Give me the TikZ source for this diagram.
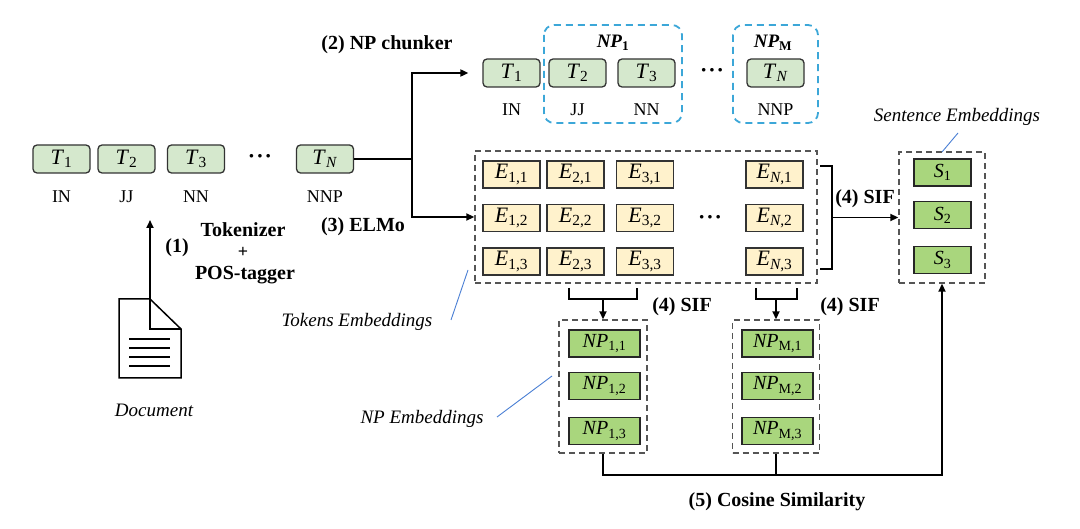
\documentclass[tikz,border=0pt]{standalone}
\usepackage{fontspec}
\setmainfont{Liberation Serif}
\usetikzlibrary{arrows.meta}
\definecolor{tokgreen}{RGB}{213,232,205}
\definecolor{embyellow}{RGB}{255,242,204}
\definecolor{npgreen}{RGB}{169,214,125}
\definecolor{chunkblue}{RGB}{60,167,216}
\definecolor{notegray}{RGB}{85,85,85}
\definecolor{noteblue}{RGB}{74,127,212}
\newcommand{\sub}[2]{\textit{#1}\textsubscript{#2}}
\newcommand{\hdots}{\textbf{\char"00B7\kern1pt\char"00B7\kern1pt\char"00B7}}
\begin{document}
\begin{tikzpicture}[x=1pt, y=-1pt,
    tokbox/.style={draw=black!80, line width=1.3pt, fill=tokgreen, rounded corners=4pt,
        minimum width=57pt, minimum height=28pt, inner sep=0pt, font=\fontsize{22}{24}\selectfont},
    embbox/.style={draw=black!80, line width=1.3pt, fill=embyellow,
        minimum width=57pt, minimum height=27pt, inner sep=0pt, font=\fontsize{22}{24}\selectfont},
    vecbox/.style={draw=black!85, line width=1.3pt, fill=npgreen,
        minimum height=27pt, inner sep=0pt, font=\fontsize{20}{24}\selectfont},
    groupbox/.style={draw=notegray, line width=1.4pt, dash pattern=on 6pt off 4pt, inner sep=0pt},
    chunkbox/.style={draw=chunkblue, line width=1.8pt, dash pattern=on 7pt off 5pt, rounded corners=10pt},
    tag/.style={font=\fontsize{18}{20}\selectfont},
    dotlabel/.style={font=\fontsize{22}{24}\selectfont},
    steplabel/.style={font=\bfseries\fontsize{20}{22}\selectfont},
    notelabel/.style={font=\itshape\fontsize{19}{22}\selectfont},
    noteline/.style={draw=noteblue, line width=0.9pt},
    conn/.style={line width=1.9pt},
    arr/.style={conn, -{Triangle[length=8pt, width=7pt]}}]
    \useasboundingbox (0,0) rectangle (1080,529);

    % tokens of the document
    \node[tokbox] (t1) at (61.5,159) {\sub{T}{1}};
    \node[tokbox] (t2) at (126.5,159) {\sub{T}{2}};
    \node[tokbox] (t3) at (196,159) {\sub{T}{3}};
    \node[dotlabel] (tdots) at (260,159) {\hdots};
    \node[tokbox] (tn) at (325,159) {\sub{T}{\textit{N}}};
    \node[tag] (p1) at (61.5,197) {IN};
    \node[tag] (p2) at (126.5,197) {JJ};
    \node[tag] (p3) at (196,197) {NN};
    \node[tag] (pn) at (325,197) {NNP};

    % document icon
    \draw[line width=1.5pt] (119,299) -- (150,299) -- (181,329) -- (181,378) -- (119,378) -- cycle;
    \draw[line width=1.5pt] (150,299) coordinate (docfold) -- (150,329) -- (181,329);
    \draw[line width=1.5pt] (129,339) -- (170,339) (129,348) -- (170,348) (129,357) -- (170,357) (129,366) -- (170,366);
    \node[notelabel] (doc) at (154,410) {Document};
    \coordinate (tagged) at (150,220);
    \draw[arr] (docfold) -- (tagged);
    \node[steplabel] (s1lab) at (177,248) {(1)};
    \node[steplabel, anchor=base, inner sep=0pt] (toklab) at (243,237) {Tokenizer};
    \node[steplabel, anchor=base, inner sep=0pt, font=\bfseries\fontsize{18}{20}\selectfont] (pluslab) at (243,258) {+};
    \node[steplabel, anchor=base, inner sep=0pt] (poslab) at (245,280) {POS-tagger};

    % chunked tokens
    \node[tokbox] (c1) at (511.5,73) {\sub{T}{1}};
    \node[tokbox] (c2) at (577.5,73) {\sub{T}{2}};
    \node[tokbox] (c3) at (646.5,73) {\sub{T}{3}};
    \node[dotlabel] (cdots) at (712,73) {\hdots};
    \node[tokbox] (cn) at (775.5,73) {\sub{T}{\textit{N}}};
    \node[tag] (q1) at (511.5,110) {IN};
    \node[tag] (q2) at (577.5,110) {JJ};
    \node[tag] (q3) at (646.5,110) {NN};
    \node[tag] (qn) at (775.5,110) {NNP};
    \draw[chunkbox] (544,25) rectangle (682,123);
    \draw[chunkbox] (733,25) rectangle (818,123);
    \node[font=\bfseries\itshape\fontsize{19}{22}\selectfont] (np1lab) at (613,43) {NP\textsubscript{\upshape 1}};
    \node[font=\bfseries\itshape\fontsize{19}{22}\selectfont] (npmlab) at (773,43) {NP\textsubscript{\upshape M}};

    % token embeddings
    \node[groupbox, minimum width=342pt, minimum height=132pt] (ebox) at (646,217) {};
    \node[embbox] (e11) at (511.5,174.5) {\sub{E}{1,1}};
    \node[embbox] (e21) at (575.5,174.5) {\sub{E}{2,1}};
    \node[embbox] (e31) at (645,174.5) {\sub{E}{3,1}};
    \node[embbox] (en1) at (774.5,174.5) {\sub{E}{\textit{N},1}};
    \node[embbox] (e12) at (511.5,218) {\sub{E}{1,2}};
    \node[embbox] (e22) at (575.5,218) {\sub{E}{2,2}};
    \node[embbox] (e32) at (645,218) {\sub{E}{3,2}};
    \node[embbox] (en2) at (774.5,218) {\sub{E}{\textit{N},2}};
    \node[embbox] (e13) at (511.5,261.5) {\sub{E}{1,3}};
    \node[embbox] (e23) at (575.5,261.5) {\sub{E}{2,3}};
    \node[embbox] (e33) at (645,261.5) {\sub{E}{3,3}};
    \node[embbox] (en3) at (774.5,261.5) {\sub{E}{\textit{N},3}};
    \node[dotlabel] (edots) at (710,220) {\hdots};

    % branch to chunker and ELMo
    \coordinate (split) at (412,159);
    \draw[conn] (tn.east) -- (split);
    \draw[arr] (split) |- ([xshift=-14pt]c1.west);
    \draw[arr] (split) |- (ebox.west);
    \node[steplabel] (s2lab) at (387,45) {(2) NP chunker};
    \node[steplabel] (s3lab) at (363,227) {(3) ELMo};

    % sentence embeddings
    \node[groupbox, minimum width=86pt, minimum height=131pt] (sbox) at (942,217.5) {};
    \node[vecbox, minimum width=57pt] (se1) at (942.5,172.5) {\sub{S}{1}};
    \node[vecbox, minimum width=57pt] (se2) at (942.5,215) {\sub{S}{2}};
    \node[vecbox, minimum width=57pt] (se3) at (942.5,260) {\sub{S}{3}};
    \draw[conn] (820,166) -- (832,166) -- (832,269) -- (820,269);
    \coordinate (sifr) at (832,217.5);
    \draw[arr] (sifr) -- (sbox.west);
    \node[steplabel] (s4lab) at (865,199) {(4) SIF};

    % NP embeddings
    \node[groupbox, minimum width=88pt, minimum height=133pt] (np1box) at (603,386.5) {};
    \node[vecbox, minimum width=71pt] (np11) at (604.5,343.5) {\sub{NP}{1,1}};
    \node[vecbox, minimum width=71pt] (np12) at (604.5,386) {\sub{NP}{1,2}};
    \node[vecbox, minimum width=71pt] (np13) at (604.5,431) {\sub{NP}{1,3}};
    \node[groupbox, minimum width=87pt, minimum height=133pt] (npmbox) at (776,386.5) {};
    \node[vecbox, minimum width=71pt] (npm1) at (777.5,343.5) {\sub{NP}{M,1}};
    \node[vecbox, minimum width=71pt] (npm2) at (777.5,386) {\sub{NP}{M,2}};
    \node[vecbox, minimum width=71pt] (npm3) at (777.5,431) {\sub{NP}{M,3}};
    \draw[conn] (569,288) -- (569,299) -- (637,299) -- (637,288);
    \draw[conn] (756,288) -- (756,299) -- (797,299) -- (797,288);
    \draw[arr] (603,299) -- (np1box.north);
    \draw[arr] (776,299) -- (npmbox.north);
    \node[steplabel] (s4lab1) at (682,307) {(4) SIF};
    \node[steplabel] (s4lab2) at (850,307) {(4) SIF};

    % cosine similarity
    \coordinate (cosr) at (942,475);
    \draw[arr] (np1box.south) |- (cosr) -- (sbox.south);
    \draw[conn] (npmbox.south) -- (npmbox.south |- cosr);
    \node[steplabel] (s5lab) at (777,502) {(5) Cosine Similarity};

    % annotations
    \node[notelabel] (toknote) at (357,322) {Tokens Embeddings};
    \draw[noteline] (451,320) -- (468,270);
    \node[notelabel] (npnote) at (422,419) {NP Embeddings};
    \draw[noteline] (497,417) -- (552,376);
    \node[notelabel] (sennote) at (957,117) {Sentence Embeddings};
    \draw[noteline] (958,133) -- (942,152);
\end{tikzpicture}
\end{document}
